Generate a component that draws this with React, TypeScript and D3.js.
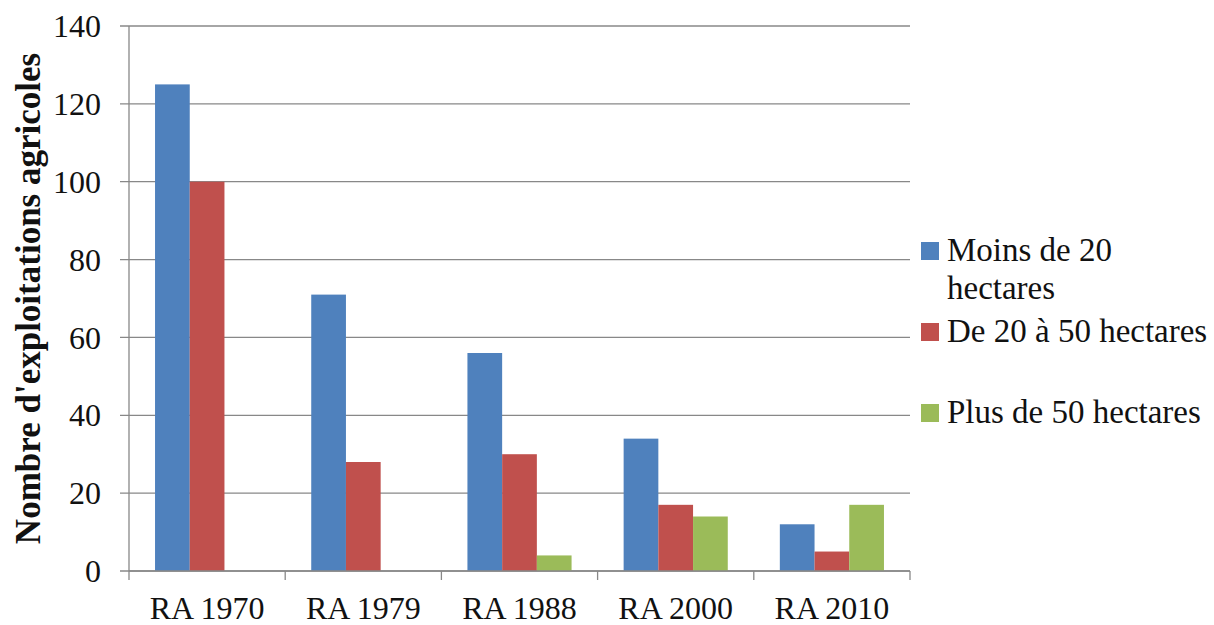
import * as d3 from 'd3'

const categories = ['RA 1970', 'RA 1979', 'RA 1988', 'RA 2000', 'RA 2010']
const seriesNames = ['Moins de 20 hectares', 'De 20 à 50 hectares', 'Plus de 50 hectares']
const moinsDe20 = [125, 71, 56, 34, 12]
const de20a50 = [100, 28, 30, 17, 5]
const plusDe50 = [0, 0, 4, 14, 17]
const yTicks = [0, 20, 40, 60, 80, 100, 120, 140]
const colors = ['#4F81BD', '#C0504D', '#9BBB59']

const width = 1214
const height = 625
const left = 129
const right = 910
const top = 26
const bottom = 571
const font = "'Liberation Serif', 'DejaVu Serif', serif"

export default function App() {
  const series = [moinsDe20, de20a50, plusDe50]

  const x = d3.scaleBand<string>().domain(categories).range([left, right])
  const inner = d3.scaleBand<number>()
    .domain([0, 1, 2])
    .range([0, x.bandwidth()])
    .paddingOuter(0.75)
    .paddingInner(0)
  const y = d3.scaleLinear().domain([0, 140]).range([bottom, top])

  const legendRows = [
    { lines: ['Moins de 20', 'hectares'], cy: 251 },
    { lines: ['De 20 à 50 hectares'], cy: 332 },
    { lines: ['Plus de 50 hectares'], cy: 413 },
  ]

  const txt = { fontFamily: font, fill: '#111' }

  return (
    <svg width={width} height={height} style={{ position: 'absolute', left: 0, top: 0, background: '#fff' }}>
      {/* grid */}
      {yTicks.map(t => (
        <g key={t}>
          <line x1={left - 9} x2={right} y1={y(t)} y2={y(t)} stroke="#888" strokeWidth={1.3} />
          <text x={101} y={y(t)} dy="0.35em" textAnchor="end" style={{ ...txt, fontSize: 32 }}>{t}</text>
        </g>
      ))}
      <line x1={left} x2={left} y1={top} y2={bottom} stroke="#888" strokeWidth={1.3} />

      {/* bars */}
      {categories.map((c, i) => (
        <g key={c} transform={`translate(${x(c)},0)`}>
          {series.map((s, k) => s[i] > 0 && (
            <rect key={k} x={inner(k)} y={y(s[i])} width={inner.bandwidth()} height={bottom - y(s[i])} fill={colors[k]} />
          ))}
        </g>
      ))}

      {/* x axis */}
      <line x1={left} x2={right} y1={bottom} y2={bottom} stroke="#888" strokeWidth={1.3} />
      {[...categories.map(c => x(c) as number), right].map((v, i) => (
        <line key={i} x1={v} x2={v} y1={bottom} y2={bottom + 9} stroke="#888" strokeWidth={1.3} />
      ))}
      {categories.map(c => (
        <text key={c} x={(x(c) as number) + x.bandwidth() / 2} y={619} textAnchor="middle" style={{ ...txt, fontSize: 32 }}>{c}</text>
      ))}

      {/* y title */}
      <text transform={`translate(40,${(top + bottom) / 2}) rotate(-90)`} textAnchor="middle" style={{ ...txt, fontSize: 35, fontWeight: 'bold' }}>
        Nombre d'exploitations agricoles
      </text>

      {/* legend */}
      {legendRows.map((r, k) => (
        <g key={seriesNames[k]}>
          <rect x={921} y={r.cy - 9} width={18} height={18} fill={colors[k]} />
          {r.lines.map((ln, j) => (
            <text key={j} x={947} y={r.cy + 10 + j * 38} style={{ ...txt, fontSize: 33 }}>{ln}</text>
          ))}
        </g>
      ))}
    </svg>
  )
}
